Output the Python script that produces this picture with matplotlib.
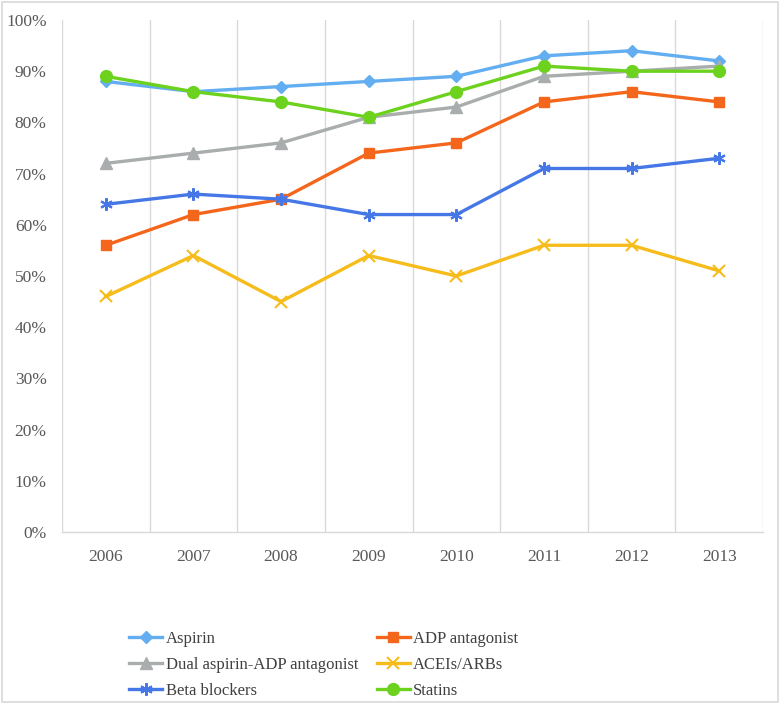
import matplotlib
matplotlib.use("Agg")
import matplotlib.pyplot as plt
from matplotlib.ticker import FixedLocator, PercentFormatter
from matplotlib.patches import Rectangle

plt.rcParams['font.family'] = ['Liberation Serif', 'DejaVu Serif']

years = ['2006', '2007', '2008', '2009', '2010', '2011', '2012', '2013']
aspirin = [88, 86, 87, 88, 89, 93, 94, 92]
adp = [56, 62, 65, 74, 76, 84, 86, 84]
dual = [72, 74, 76, 81, 83, 89, 90, 91]
acei = [46, 54, 45, 54, 50, 56, 56, 51]
beta = [64, 66, 65, 62, 62, 71, 71, 73]
statins = [89, 86, 84, 81, 86, 91, 90, 90]

series = [
    ('Aspirin', aspirin, '#63AEF0', 'D', 6.5),
    ('ADP antagonist', adp, '#F4661B', 's', 7.5),
    ('Dual aspirin-ADP antagonist', dual, '#A9ADAD', '^', 8),
    ('ACEIs/ARBs', acei, '#F6BC1C', 'x', 8),
    ('Beta blockers', beta, '#4677E6', (6, 2, 0), 9),
    ('Statins', statins, '#6CD21E', 'o', 8.5),
]

W, H = 780, 703
fig = plt.figure(figsize=(W/100, H/100), dpi=100)
fig.patches.append(Rectangle((1.5/W, 1.5/H), 1-4/W, 1-3.5/H, transform=fig.transFigure,
                             fill=False, edgecolor='#D9D9D9', linewidth=1.2))
ax = fig.add_axes([62/W, (H-532)/H, (763-62)/W, (532-20)/H])

x = list(range(len(years)))
handles = {}
for name, vals, col, mk, ms in series:
    mew = 1.5 if mk in ('x', (6, 2, 0)) else 1
    ln, = ax.plot(x, [v/100 for v in vals], color=col, lw=2.4, marker=mk, markersize=ms,
                  markerfacecolor=col, markeredgecolor=col, markeredgewidth=mew,
                  label=name, zorder=3)
    handles[name] = ln

ax.set_xlim(-0.5, 7.5)
ax.set_ylim(0, 1.0)
ax.set_xticks(x)
ax.set_xticklabels(years)
ax.xaxis.set_minor_locator(FixedLocator([i - 0.5 for i in range(len(years) + 1)]))
ax.grid(which='minor', axis='x', color='#D9D9D9', lw=1)
ax.set_yticks([i/10 for i in range(11)])
ax.yaxis.set_major_formatter(PercentFormatter(1.0, decimals=0))
ax.tick_params(axis='both', which='both', length=0, labelsize=12.5, colors='#595959')
ax.tick_params(axis='y', pad=11)
ax.tick_params(axis='x', pad=12)
for s in ['left', 'right', 'top']:
    ax.spines[s].set_visible(False)
ax.spines['bottom'].set_color('#D9D9D9')
ax.spines['bottom'].set_linewidth(1)

order = ['Aspirin', 'Dual aspirin-ADP antagonist', 'Beta blockers',
         'ADP antagonist', 'ACEIs/ARBs', 'Statins']
leg = fig.legend([handles[n] for n in order], order, ncol=2, loc='upper left',
                 bbox_to_anchor=(129/W, 1 - 631/H), frameon=False, fontsize=12,
                 handlelength=2.0, handletextpad=0.2, labelspacing=0.6, columnspacing=1.1,
                 borderaxespad=0, borderpad=0)
for t in leg.get_texts():
    t.set_color('#404040')

fig.savefig('out.png', dpi=100)
